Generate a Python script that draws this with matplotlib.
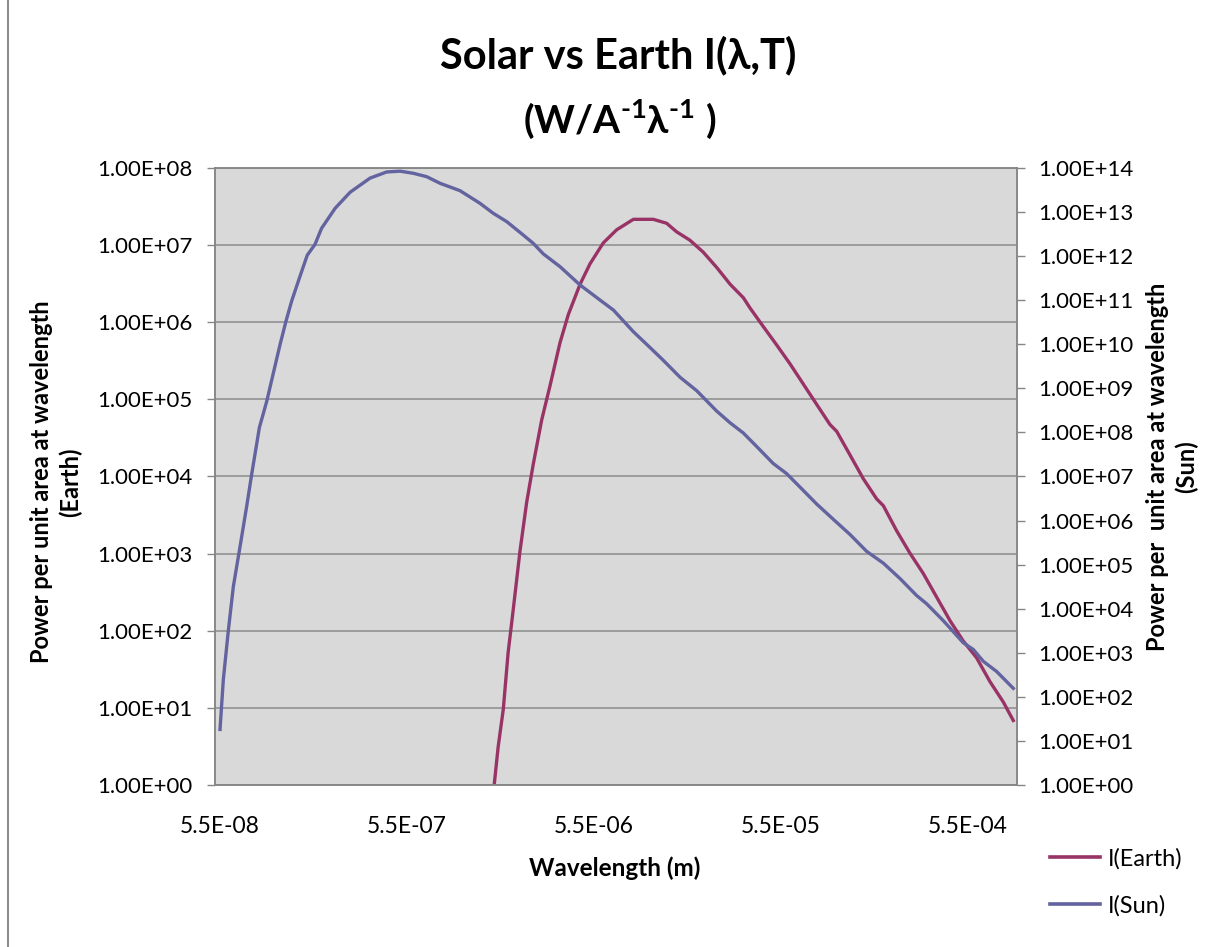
import matplotlib
matplotlib.use('Agg')
import matplotlib.pyplot as plt
from matplotlib.lines import Line2D
from matplotlib.ticker import FixedLocator, FuncFormatter, NullLocator

plt.rcParams['font.family'] = ['Lato', 'DejaVu Sans']
plt.rcParams['mathtext.fontset'] = 'custom'
plt.rcParams['mathtext.rm'] = 'Lato:bold'
plt.rcParams['mathtext.bf'] = 'Lato:bold'

# wavelength (m) and spectral intensity
wl_sun = [5.5e-8, 5.73e-8, 6.09e-8, 6.48e-8, 7.04e-8, 7.64e-8, 8.13e-8, 8.93e-8,
          9.77e-8, 1.06e-7, 1.15e-7, 1.24e-7, 1.33e-7, 1.47e-7, 1.61e-7, 1.77e-7,
          1.92e-7, 2.27e-7, 2.73e-7, 3.49e-7, 4.28e-7, 5.05e-7, 5.94e-7, 7.01e-7,
          8.26e-7, 1.056e-6, 1.351e-6, 1.59e-6, 1.88e-6, 2.30e-6, 2.60e-6, 2.95e-6,
          3.62e-6, 4.63e-6, 5.92e-6, 6.98e-6, 8.93e-6, 1.096e-5, 1.29e-5, 1.586e-5,
          1.95e-5, 2.49e-5, 2.94e-5, 3.46e-5, 4.08e-5, 5.00e-5, 5.90e-5, 6.95e-5,
          8.53e-5, 1.047e-4, 1.287e-4, 1.58e-4, 1.94e-4, 2.38e-4, 2.92e-4, 3.31e-4,
          4.06e-4, 5.19e-4, 5.87e-4, 6.64e-4, 7.83e-4, 9.61e-4]
i_sun = [18.2, 252, 3140, 3.18e4, 2.59e5, 2.13e6, 1.15e7, 1.29e8,
         5.04e8, 2.20e9, 9.6e9, 3.38e10, 9.7e10, 3.42e11, 1.05e12, 1.84e12,
         4.27e12, 1.22e13, 2.82e13, 5.90e13, 8.13e13, 8.47e13, 7.59e13, 6.35e13,
         4.50e13, 3.06e13, 1.58e13, 9.4e12, 6.05e12, 3.02e12, 1.96e12, 1.12e12,
         5.77e11, 2.22e11, 1.01e11, 6.0e10, 1.93e10, 8.45e9, 4.34e9, 1.79e9,
         8.81e8, 3.06e8, 1.65e8, 9.7e7, 4.78e7, 1.97e7, 1.16e7, 5.75e6,
         2.38e6, 1.07e6, 4.83e5, 2.00e5, 1.08e5, 4.85e4, 2.00e4, 1.29e4,
         5350, 1690, 1190, 641, 376, 156]

wl_earth = [1.53e-6, 1.69e-6, 1.80e-6, 1.91e-6, 2.04e-6, 2.21e-6, 2.40e-6, 2.60e-6,
            2.89e-6, 3.20e-6, 3.62e-6, 4.01e-6, 4.63e-6, 5.24e-6, 6.17e-6, 7.27e-6,
            8.93e-6, 1.142e-5, 1.346e-5, 1.52e-5, 1.79e-5, 2.11e-5, 2.49e-5, 2.94e-5,
            3.46e-5, 3.75e-5, 4.42e-5, 5.22e-5, 6.14e-5, 7.24e-5, 8.53e-5, 1.006e-4,
            1.092e-4, 1.287e-4, 1.515e-4, 1.788e-4, 1.94e-4, 2.29e-4, 2.69e-4, 3.17e-4,
            3.74e-4, 4.41e-4, 5.19e-4, 6.12e-4, 7.21e-4, 8.50e-4, 9.61e-4]
i_earth = [0.31, 3.13, 9.6, 51.8, 199, 1072, 4610, 1.42e4,
           5.45e4, 1.50e5, 5.45e5, 1.26e6, 3.10e6, 5.74e6, 1.07e7, 1.58e7,
           2.16e7, 2.16e7, 1.92e7, 1.49e7, 1.16e7, 8.12e6, 5.15e6, 3.11e6,
           2.08e6, 1.54e6, 8.81e5, 5.06e5, 2.90e5, 1.58e5, 8.63e4, 4.71e4,
           3.85e4, 1.90e4, 9370, 5110, 4180, 1960, 1016, 554,
           273, 135, 73.6, 44.5, 21.9, 11.9, 6.86]

x_ticks = [5.5e-8, 5.5e-7, 5.5e-6, 5.5e-5, 5.5e-4]
earth_ticks = [10.0 ** k for k in range(0, 9)]
sun_ticks = [10.0 ** k for k in range(0, 15)]

earth_color = '#993366'
sun_color = '#62639F'
axis_gray = '#868686'

fig = plt.figure(figsize=(12.27, 9.47), dpi=100)
ax = fig.add_axes([215 / 1227, 162 / 947, 802 / 1227, 617 / 947])
ax.set_facecolor('#D9D9D9')
ax2 = ax.twinx()

ax.plot(wl_earth, i_earth, color=earth_color, lw=2.4, solid_joinstyle='round')
ax2.plot(wl_sun, i_sun, color=sun_color, lw=2.4, solid_joinstyle='round')

ax.set_xscale('log')
ax.set_yscale('log')
ax2.set_yscale('log')
ax.set_xlim(5.17e-8, 1.006e-3)
ax.set_ylim(1, 1e8)
ax2.set_ylim(1, 1e14)

sci2 = FuncFormatter(lambda v, p: '{:.2E}'.format(v))
ax.xaxis.set_major_locator(FixedLocator(x_ticks))
ax.xaxis.set_major_formatter(FuncFormatter(lambda v, p: '{:.1E}'.format(v)))
ax.xaxis.set_minor_locator(NullLocator())
ax.yaxis.set_major_locator(FixedLocator(earth_ticks))
ax.yaxis.set_major_formatter(sci2)
ax.yaxis.set_minor_locator(NullLocator())
ax2.yaxis.set_major_locator(FixedLocator(sun_ticks))
ax2.yaxis.set_major_formatter(sci2)
ax2.yaxis.set_minor_locator(NullLocator())

ax.tick_params(axis='x', length=0, pad=22, labelsize=16.5)
ax.tick_params(axis='y', length=6, width=1, color=axis_gray, pad=10, labelsize=16)
ax2.tick_params(axis='y', length=6, width=1, color=axis_gray, pad=9, labelsize=16)

ax.yaxis.grid(True, color='#8C8C8C', lw=1.1)
ax.set_axisbelow(True)
for a in (ax, ax2):
    for s in a.spines.values():
        s.set_color(axis_gray)
        s.set_linewidth(1.1)

fig.text(618 / 1227, 1 - 68 / 947, 'Solar vs Earth I(λ,T)', ha='center', va='baseline',
         fontsize=30, fontweight='bold')
fig.text(620 / 1227, 1 - 133 / 947, r'(W/A$^{\text{-1}}$λ$^{\text{-1}}$ )', ha='center',
         va='baseline', fontsize=28, fontweight='bold')

fig.text(56 / 1227, 1 - 482 / 947, 'Power per unit area at wavelength\n(Earth)',
         rotation=90, ha='center', va='center', multialignment='center',
         fontsize=17, fontweight='bold', linespacing=1.3)
fig.text(1172 / 1227, 1 - 467 / 947, 'Power per  unit area at wavelength\n(Sun)',
         rotation=90, ha='center', va='center', multialignment='center',
         fontsize=17, fontweight='bold', linespacing=1.25)
fig.text(615 / 1227, 1 - 868 / 947, 'Wavelength (m)', ha='center', va='center',
         fontsize=17.5, fontweight='bold')

handles = [Line2D([], [], color=earth_color, lw=2.6),
           Line2D([], [], color=sun_color, lw=2.6)]
fig.legend(handles, ['I(Earth)', 'I(Sun)'], loc='upper left',
           bbox_to_anchor=(1050 / 1227, 1 - 848 / 947), frameon=False, fontsize=17,
           handlelength=2.1, handletextpad=0.34, labelspacing=1.07, borderpad=0,
           borderaxespad=0)

fig.add_artist(Line2D([8 / 1227, 8 / 1227], [0, 1], color='#8C8C8C', lw=1.5,
                      transform=fig.transFigure))

fig.savefig('out.png', dpi=100)
